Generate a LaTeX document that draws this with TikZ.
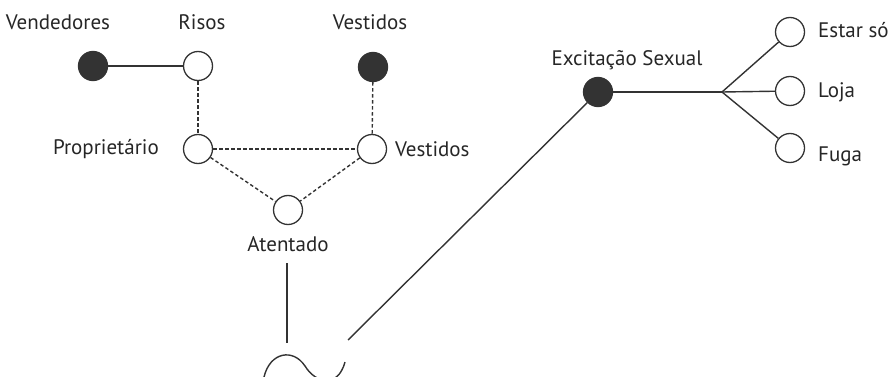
\documentclass[tikz,border=0pt]{standalone}
\usepackage{fontspec}
\setmainfont{PT Sans}
\begin{document}
\begin{tikzpicture}[x=1pt,y=-1pt,
  ln/.style={line width=1.4pt,draw=black!80},
  dsh/.style={line width=1.4pt,draw=black!80,dash pattern=on 3.5pt off 2.5pt},
  open/.style={circle,draw=black!80,line width=1.3pt,fill=white,minimum size=29pt,inner sep=0pt},
  full/.style={circle,draw=black!80,line width=1.3pt,fill=black!80,minimum size=29pt,inner sep=0pt},
  lbl/.style={font=\fontsize{21}{24}\selectfont,text=black!85,inner sep=0pt}]
\useasboundingbox (0,0) rectangle (888,377);
\clip (0,0) rectangle (888,377);
% nodes
\node[full] (vend) at (93,66) {};
\node[open] (risos) at (198,66) {};
\node[full] (vest1) at (373,67) {};
\node[open] (prop) at (198,149) {};
\node[open] (vest2) at (372,149) {};
\node[open] (aten) at (288,210) {};
\node[full] (exc) at (598,92) {};
\node[open] (estar) at (790,32) {};
\node[open] (loja) at (790,91) {};
\node[open] (fuga) at (790,148) {};
\coordinate (br) at (722,92);
\coordinate (vtop) at (287,263);
\coordinate (vbot) at (287,343);
\coordinate (dstart) at (348,340);
% labels
\node[lbl] (tvend) at (58,22) {Vendedores};
\node[lbl] (trisos) at (202,22) {Risos};
\node[lbl] (tvest1) at (370,22) {Vestidos};
\node[lbl,anchor=east] (tprop) at (159,149) {Proprietário};
\node[lbl,anchor=west] (tvest2) at (395,149) {Vestidos};
\node[lbl] (taten) at (288,244) {Atentado};
\node[lbl] (texc) at (627,60) {Excitação Sexual};
\node[lbl,anchor=west] (testar) at (818,30) {Estar só};
\node[lbl,anchor=west] (tloja) at (818,92) {Loja};
\node[lbl,anchor=west] (tfuga) at (818,156) {Fuga};
% connectors
\draw[ln] (vend) -- (risos);
\draw[dsh] (risos) -- (prop);
\draw[dsh] (vest1) -- (vest2);
\draw[dsh] (prop) -- (vest2);
\draw[dsh] (prop) -- (aten);
\draw[dsh] (vest2) -- (aten);
\draw[ln] (vtop) -- (vbot);
\draw[ln] (dstart) -- (exc);
\draw[ln] (exc) -- (br);
\draw[ln] (br) -- (estar);
\draw[ln] (br) -- (loja);
\draw[ln] (br) -- (fuga);
% tilde
\draw[ln] (264,377) .. controls (270,352) and (293,348) .. (305,366)
  .. controls (316,384) and (338,388) .. (345,362);
\end{tikzpicture}
\end{document}
